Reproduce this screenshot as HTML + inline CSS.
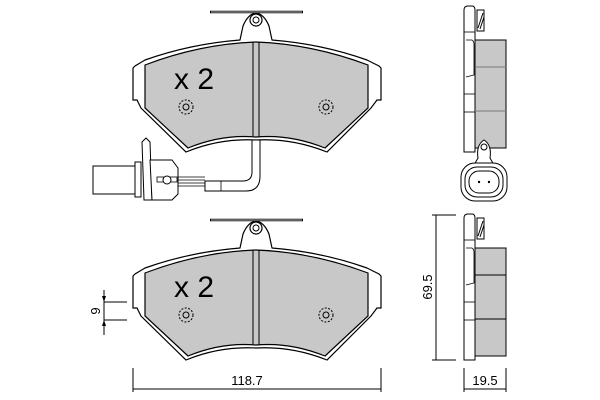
<!DOCTYPE html>
<html><head><style>html,body{margin:0;padding:0;background:#fff}svg{display:block}</style></head>
<body>
<svg width="600" height="400" viewBox="0 0 600 400" xmlns="http://www.w3.org/2000/svg" font-family="Liberation Sans, sans-serif">
<defs>
<g id="pad">
  <line x1="210" y1="12" x2="303" y2="12" stroke="#000" stroke-width="2.5"/>
  <line x1="211" y1="12" x2="302" y2="12" stroke="#fff" stroke-width="0.8"/>
  <path d="M133,68 L135,66 L145,60 Q190,44 240,40 L243,26 Q248,14 256,13 Q264,14 269,26 L272,40 Q322,44 367,60 L379,66 L381,68 L381,100 L377,100 L371,108 L327,152 Q292,138 256,140 Q220,138 186,152 L141,108 L137,100 L133,100 Z" fill="#fff" stroke="#000" stroke-width="1.2"/>
  <circle cx="256" cy="20" r="6" fill="#fff" stroke="#000" stroke-width="1.2"/>
  <circle cx="256" cy="20" r="3" fill="#fff" stroke="#000"/>
  <path d="M145,65 Q200,44 256,42 Q312,44 368,65 L368,108 L325,148 Q290,134 256,137 Q222,134 188,148 L145,108 Z" fill="#c8c8c8" stroke="#000" stroke-width="1.2"/>
  <line x1="253" y1="42" x2="253" y2="137" stroke="#000" stroke-width="1"/>
  <line x1="259" y1="42" x2="259" y2="137" stroke="#000" stroke-width="1"/>
  <circle cx="186" cy="107" r="7" fill="none" stroke="#000" stroke-dasharray="2,1.5"/>
  <circle cx="186" cy="107" r="3" fill="none" stroke="#000"/>
  <circle cx="326" cy="107" r="7" fill="none" stroke="#000" stroke-dasharray="2,1.5"/>
  <circle cx="326" cy="107" r="3" fill="none" stroke="#000"/>
</g>
<g id="side">
  <path d="M464,152 L464,10 Q464,6 468,6 L472,6 Q475,6 475,10 L475,152 Z" fill="#fff" stroke="#000"/>
  <line x1="464" y1="32" x2="475" y2="32" stroke="#000" stroke-width="0.8"/>
  <path d="M466,40 L472,40 Q474,41 474,45 L474,75 L466,77" fill="none" stroke="#000" stroke-width="0.8"/>
  <line x1="464" y1="94" x2="475" y2="94" stroke="#000" stroke-width="0.8"/>
  <line x1="464" y1="112" x2="475" y2="112" stroke="#000" stroke-width="0.8"/>
  <rect x="475" y="40" width="31" height="108" fill="#c8c8c8" stroke="#000"/>
  <rect x="477" y="10" width="7" height="21" fill="#fff" stroke="#000"/>
  <line x1="478" y1="28" x2="483" y2="13" stroke="#000"/>
  <line x1="480" y1="29" x2="484" y2="17" stroke="#000"/>
</g>
</defs>
<use href="#pad"/>
<use href="#pad" transform="translate(0,208)"/>
<text x="174" y="89" font-size="30">x 2</text>
<text x="174" y="297" font-size="30">x 2</text>

<path d="M252,140 L252,172 Q252,181 243,181 L205,181 L205,191 L246,191 Q260,191 260,176 L260,140 Z" fill="#fff" stroke="#000"/>
<line x1="221" y1="181" x2="221" y2="191" stroke="#000" stroke-width="0.8"/>
<line x1="178" y1="177" x2="205" y2="177" stroke="#000" stroke-width="0.8"/>
<line x1="178" y1="180" x2="205" y2="180" stroke="#000" stroke-width="0.8"/>
<line x1="178" y1="183" x2="205" y2="183" stroke="#000" stroke-width="0.8"/>
<line x1="178" y1="186" x2="205" y2="186" stroke="#000" stroke-width="0.8"/>
<rect x="93" y="166" width="42" height="28" fill="#fff" stroke="#000"/>
<rect x="135" y="162" width="6" height="35" fill="#fff" stroke="#000"/>
<path d="M142,142 L146,138 L150,142 L152,200 L144,200 Z" fill="#fff" stroke="#000"/>
<path d="M150,160 L172,160 L178,168 L178,194 L172,200 L152,200 Z" fill="#fff" stroke="#000"/>
<rect x="157" y="177" width="20" height="5" fill="#fff" stroke="#000" stroke-width="0.8"/>
<circle cx="167" cy="180" r="4" fill="#fff" stroke="#000"/>

<use href="#side"/>
<use href="#side" transform="translate(0,208)"/>
<line x1="475" y1="275" x2="506" y2="275" stroke="#000"/>
<line x1="475" y1="319" x2="506" y2="319" stroke="#000"/>
<line x1="475" y1="67" x2="506" y2="67" stroke="#777"/>
<line x1="475" y1="111" x2="506" y2="111" stroke="#777"/>
<path d="M478,158 Q476,145 484,140 Q492,145 490,158 L494,165 L474,165 Z" fill="#fff" stroke="#000"/>
<circle cx="484" cy="147" r="3" fill="#fff" stroke="#000"/>
<rect x="461" y="163" width="46" height="38" rx="14" fill="#fff" stroke="#000"/>
<rect x="465" y="167" width="38" height="30" rx="12" fill="#fff" stroke="#000"/>
<rect x="469" y="171" width="30" height="22" rx="10" fill="#fff" stroke="#000"/>
<circle cx="479" cy="182" r="1.2"/><circle cx="489" cy="182" r="1.2"/>

<g stroke="#000" stroke-width="1" fill="none">
<line x1="133" y1="368" x2="133" y2="392"/><line x1="381" y1="368" x2="381" y2="392"/><line x1="133" y1="389" x2="381" y2="389"/>
<line x1="104" y1="290" x2="104" y2="335"/><line x1="104" y1="302" x2="127" y2="302"/><line x1="104" y1="320" x2="127" y2="320"/>
<line x1="436" y1="215" x2="436" y2="360"/><line x1="432" y1="215" x2="456" y2="215"/><line x1="432" y1="360" x2="456" y2="360"/>
<line x1="464" y1="368" x2="464" y2="392"/><line x1="506" y1="368" x2="506" y2="392"/><line x1="464" y1="389" x2="506" y2="389"/>
</g>
<path d="M102,296 L106,296 L104,302 Z M102,326 L106,326 L104,320 Z"/>
<text x="247" y="385" font-size="13" text-anchor="middle">118.7</text>
<text x="485" y="385" font-size="13" text-anchor="middle">19.5</text>
<text transform="translate(100,311) rotate(-90)" font-size="13" text-anchor="middle">9</text>
<text transform="translate(432,287) rotate(-90)" font-size="13" text-anchor="middle">69.5</text>
</svg>
</body></html>
